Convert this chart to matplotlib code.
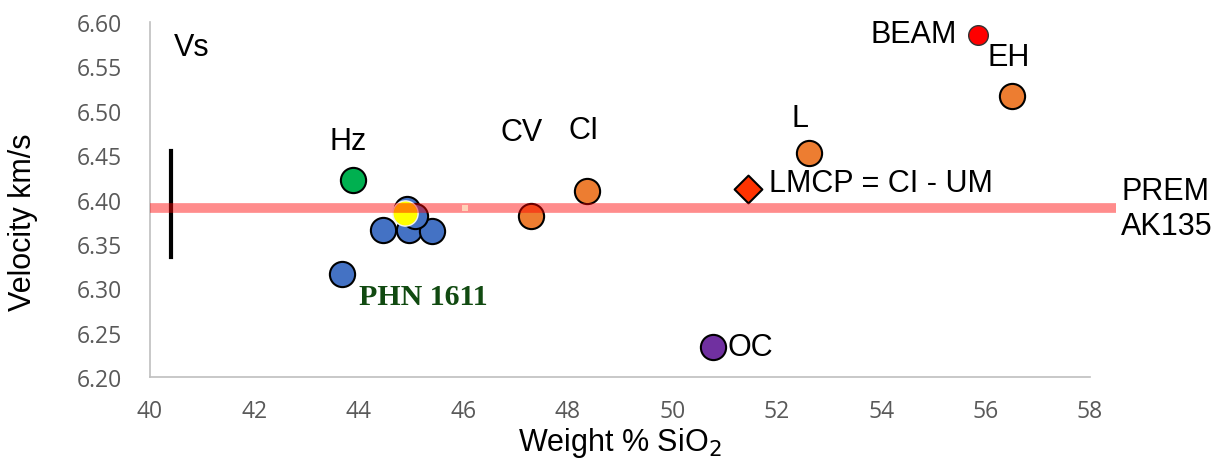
import matplotlib.pyplot as plt

# Vs velocity versus SiO2 content
blue_x = [43.68, 44.46, 44.96, 45.40, 44.92, 45.08]
blue_y = [6.316, 6.366, 6.366, 6.365, 6.389, 6.381]
yellow_x = [44.89]
yellow_y = [6.385]
hz_x, hz_y = [43.89], [6.422]
chondrite_names = ["CV", "CI", "L", "EH"]
chondrite_x = [47.30, 48.37, 52.62, 56.50]
chondrite_y = [6.381, 6.410, 6.452, 6.517]
oc_x, oc_y = [50.78], [6.234]
lmcp_x, lmcp_y = [51.45], [6.412]
beam_x, beam_y = [55.85], [6.585]
prem_x = [40.0, 58.5]
prem_y = [6.39, 6.39]
err_x = [40.4, 40.4]
err_y = [6.335, 6.455]

plt.rcParams['font.family'] = ['Liberation Sans', 'DejaVu Sans']

fig = plt.figure(figsize=(12.25, 4.77), dpi=100)
ax = fig.add_axes([0.1224, 0.2075, 0.7674, 0.7443])

edge = dict(edgecolor='black', linewidths=1.5, zorder=3)
ms = 330
ax.scatter(blue_x[1:], blue_y[1:], s=ms, color='#4472C4', **edge)
ax.scatter(blue_x[:1], blue_y[:1], s=ms, color='#4472C4', **edge)
ax.scatter(yellow_x, yellow_y, s=ms, color='#FFFF00', edgecolor='#F2F2F2',
           linewidths=1.0, zorder=3)
ax.scatter(hz_x, hz_y, s=ms, color='#00B050', **edge)
ax.scatter(chondrite_x, chondrite_y, s=ms, color='#ED7D31', **edge)
ax.scatter(oc_x, oc_y, s=ms, color='#7030A0', **edge)
ax.scatter(lmcp_x, lmcp_y, s=200, marker='D', color='#FF3300', **edge)
ax.scatter(beam_x, beam_y, s=200, color='#FF0000', edgecolor='#333333',
           linewidths=1.0, zorder=3)

# reference line and error bar
ax.plot(prem_x, prem_y, color='#FF0000', alpha=0.45, lw=7, zorder=4,
        solid_capstyle='butt', clip_on=False)
ax.plot([46.03], [6.39], marker='s', ms=5, color='#FFD2B8', mew=0, zorder=5)
ax.plot(err_x, err_y, color='black', lw=3, zorder=2)

fs = 22
ax.text(40.45, 6.572, "Vs", fontsize=fs, va='center')
ax.text(hz_x[0] - 0.1, 6.466, "Hz", fontsize=fs, ha='center', va='center')
ax.text(47.12, 6.476, "CV", fontsize=fs, ha='center', va='center')
ax.text(48.30, 6.478, "CI", fontsize=fs, ha='center', va='center')
ax.text(52.45, 6.492, "L", fontsize=fs, ha='center', va='center')
ax.text(56.45, 6.561, "EH", fontsize=fs, ha='center', va='center')
ax.text(55.45, 6.586, "BEAM", fontsize=fs, ha='right', va='center')
ax.text(51.85, 6.419, "LMCP = CI - UM", fontsize=fs, va='center')
ax.text(51.05, 6.234, "OC", fontsize=fs, va='center')
ax.text(58.6, 6.39, "PREM\nAK135", fontsize=fs, va='center', linespacing=1.2)
ax.text(44.0, 6.291, "PHN 1611", fontsize=21.5, fontweight='bold',
        family='Liberation Serif', color='#114A11', va='center')

ax.set_xlim(40, 58)
ax.set_ylim(6.20, 6.60)
ax.set_xticks(range(40, 59, 2))
ax.set_yticks([6.20 + 0.05 * i for i in range(9)])
ax.set_yticklabels([f"{6.20 + 0.05 * i:.2f}" for i in range(9)])
ax.tick_params(length=0, labelsize=16.5, colors='#595959')
ax.tick_params(axis='y', pad=20)
ax.tick_params(axis='x', pad=16)
for lab in ax.get_xticklabels() + ax.get_yticklabels():
    lab.set_family('Open Sans')

for side in ['top', 'right']:
    ax.spines[side].set_visible(False)
for side in ['left', 'bottom']:
    ax.spines[side].set_color('#BFBFBF')
    ax.spines[side].set_linewidth(1.2)

ax.set_xlabel("Weight % SiO$_2$", fontsize=22)
ax.set_ylabel("Velocity km/s", fontsize=22)
ax.xaxis.set_label_coords(0.5, -0.135)
ax.yaxis.set_label_coords(-0.119, 0.44)

fig.savefig("out.png", dpi=100)
